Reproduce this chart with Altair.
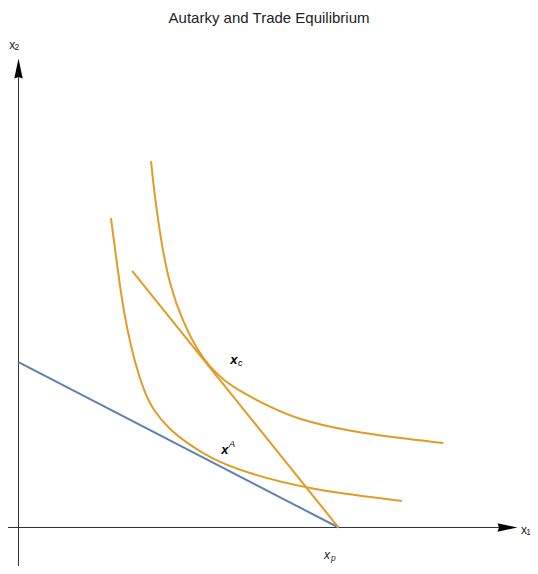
import altair as alt
import pandas as pd

# ---------------- data (units: x_p = 10) ----------------
title_text = "Autarky and Trade Equilibrium"

# autarky price / production line (blue)
blue_x = [0.0, 10.0]
blue_y = [5.17, 0.0]

# trade price line (orange, straight)
trade_x = [3.55, 10.0]
trade_y = [8.02, 0.0]

# higher indifference curve (through x_c)
ic_hi_x = [4.14, 4.27, 4.50, 4.73, 5.11, 5.58, 5.98, 6.39, 7.02, 7.86, 8.70, 10.27, 11.83, 13.27]
ic_hi_y = [11.45, 10.23, 8.67, 7.58, 6.48, 5.55, 5.02, 4.61, 4.20, 3.77, 3.39, 3.02, 2.80, 2.64]

# lower indifference curve (through x^A)
ic_lo_x = [2.89, 3.02, 3.23, 3.40, 3.64, 3.91, 4.20, 4.73, 5.27, 5.98, 7.14, 9.02, 11.98]
ic_lo_y = [9.67, 8.67, 7.11, 6.17, 5.14, 4.30, 3.67, 3.05, 2.64, 2.17, 1.70, 1.20, 0.83]

# axes (lines and arrow heads)
xaxis_from, xaxis_to = -0.33, 15.3
yaxis_from, yaxis_to = -1.21, 14.6
xarrow_pos = 15.28
yarrow_pos = 14.34

# labels: main glyph and small index glyph
main_text = ["x", "x", "x"]
main_x = [-0.194, 15.80, 9.64]
main_y = [15.08, -0.078, -0.86]
main_style = ["normal", "normal", "italic"]
idx_text = ["2", "1", "p"]
idx_x = [-0.053, 15.94, 9.84]
idx_y = [15.00, -0.14, -0.95]
idx_style = ["normal", "normal", "italic"]

pt_text = ["x", "x"]
pt_x = [6.73, 6.45]
pt_y = [5.22, 2.41]
pt_idx_text = ["c", "A"]
pt_idx_x = [6.93, 6.67]
pt_idx_y = [5.13, 2.61]

title_x, title_y = 7.83, 15.92

X_MIN, X_MAX = -0.328, 15.984
Y_MIN, Y_MAX = -1.203, 16.234

ORANGE = "#E19C24"
BLUE = "#5E81B5"
FONT = "Liberation Sans"

xs = alt.Scale(domain=[X_MIN, X_MAX], nice=False, zero=False)
ys = alt.Scale(domain=[Y_MIN, Y_MAX], nice=False, zero=False)


def X(field="x"):
    return alt.X(f"{field}:Q", scale=xs, axis=None)


def Y(field="y"):
    return alt.Y(f"{field}:Q", scale=ys, axis=None)


# axes rules
xaxis_df = pd.DataFrame({"x": [xaxis_from], "x2": [xaxis_to], "y": [0.0]})
yaxis_df = pd.DataFrame({"x": [0.0], "y": [yaxis_from], "y2": [yaxis_to]})

xaxis = alt.Chart(xaxis_df).mark_rule(color="#333333", strokeWidth=1).encode(
    x=X(), x2="x2:Q", y=Y()
)
yaxis = alt.Chart(yaxis_df).mark_rule(color="#333333", strokeWidth=1).encode(
    x=X(), y=Y(), y2="y2:Q"
)

xarrow = alt.Chart(pd.DataFrame({"x": [xarrow_pos], "y": [0.0]})).mark_point(
    shape="M-1,-0.42L1,0L-1,0.42L-0.85,0Z", filled=True, color="#000000",
    opacity=1, size=400, strokeWidth=0
).encode(x=X(), y=Y())

yarrow = alt.Chart(pd.DataFrame({"x": [0.0], "y": [yarrow_pos]})).mark_point(
    shape="M-0.42,1L0,-1L0.42,1L0,0.85Z", filled=True, color="#000000",
    opacity=1, size=400, strokeWidth=0
).encode(x=X(), y=Y())

blue = alt.Chart(pd.DataFrame({"x": blue_x, "y": blue_y})).mark_line(
    color=BLUE, strokeWidth=2
).encode(x=X(), y=Y())

trade = alt.Chart(pd.DataFrame({"x": trade_x, "y": trade_y})).mark_line(
    color=ORANGE, strokeWidth=2
).encode(x=X(), y=Y())

ic_hi = alt.Chart(pd.DataFrame({"x": ic_hi_x, "y": ic_hi_y})).mark_line(
    color=ORANGE, strokeWidth=2, interpolate="basis"
).encode(x=X(), y=Y())

ic_lo = alt.Chart(pd.DataFrame({"x": ic_lo_x, "y": ic_lo_y})).mark_line(
    color=ORANGE, strokeWidth=2, interpolate="basis"
).encode(x=X(), y=Y())

# axis labels
main_df = pd.DataFrame({"x": main_x, "y": main_y, "t": main_text, "s": main_style})
idx_df = pd.DataFrame({"x": idx_x, "y": idx_y, "t": idx_text, "s": idx_style})

main_norm = alt.Chart(main_df[main_df.s == "normal"]).mark_text(
    font=FONT, fontSize=12, color="#222222", align="center", baseline="middle"
).encode(x=X(), y=Y(), text="t:N")
main_ital = alt.Chart(main_df[main_df.s == "italic"]).mark_text(
    font=FONT, fontSize=12, fontStyle="italic", color="#222222", align="center", baseline="middle"
).encode(x=X(), y=Y(), text="t:N")
idx_norm = alt.Chart(idx_df[idx_df.s == "normal"]).mark_text(
    font=FONT, fontSize=8.5, color="#222222", align="center", baseline="middle"
).encode(x=X(), y=Y(), text="t:N")
idx_ital = alt.Chart(idx_df[idx_df.s == "italic"]).mark_text(
    font=FONT, fontSize=8.5, fontStyle="italic", color="#222222", align="center", baseline="middle"
).encode(x=X(), y=Y(), text="t:N")

# point labels
pt = alt.Chart(pd.DataFrame({"x": pt_x, "y": pt_y, "t": pt_text})).mark_text(
    font=FONT, fontSize=13, fontStyle="italic", fontWeight="bold", color="#000000",
    align="center", baseline="middle"
).encode(x=X(), y=Y(), text="t:N")
pt_idx = alt.Chart(pd.DataFrame({"x": pt_idx_x, "y": pt_idx_y, "t": pt_idx_text})).mark_text(
    font=FONT, fontSize=9, fontStyle="italic", color="#000000",
    align="center", baseline="middle"
).encode(x=X(), y=Y(), text="t:N")

title = alt.Chart(pd.DataFrame({"x": [title_x], "y": [title_y], "t": [title_text]})).mark_text(
    font=FONT, fontSize=15, color="#222222", align="center", baseline="middle"
).encode(x=X(), y=Y(), text="t:N")

chart = alt.layer(
    xaxis, yaxis, blue, ic_lo, ic_hi, trade, xarrow, yarrow,
    main_norm, main_ital, idx_norm, idx_ital, pt, pt_idx, title
).properties(
    width=522, height=558, padding=0,
    autosize=alt.AutoSizeParams(type="none"),
).configure_view(stroke=None)

chart.save("out.html", embed_options={"renderer": "svg", "actions": False})
